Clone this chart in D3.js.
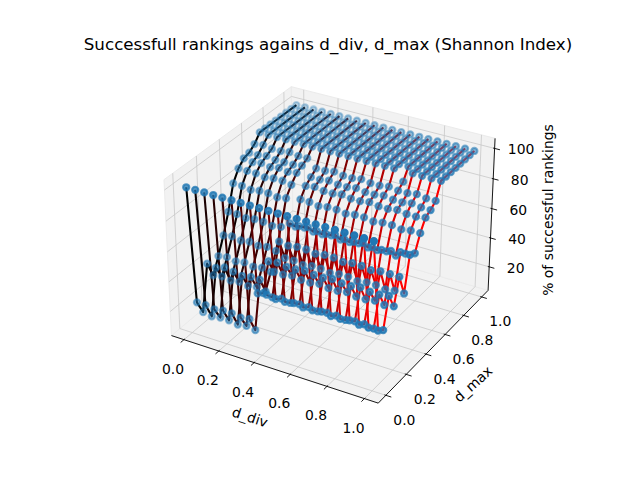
<!DOCTYPE html>
<html>
<head>
<meta charset="utf-8">
<script src="https://cdn.jsdelivr.net/npm/d3@7"></script>
<style>
  body { margin: 0; background: #fff; }
  text { font-family: "DejaVu Sans", sans-serif; fill: #000; }
</style>
</head>
<body>
<svg id="chart" width="640" height="480"></svg>
<script>
// d_div values (one line per value) and d_max values (points along each line)
const dDiv = [0, 0.05, 0.1, 0.15, 0.2, 0.25, 0.3, 0.35, 0.4, 0.45, 0.5,
  0.55, 0.6, 0.65, 0.7, 0.75, 0.8, 0.85, 0.9, 0.95, 1]
const dMax = [0, 0.05, 0.1, 0.15, 0.2, 0.25, 0.3, 0.35, 0.4, 0.45, 0.5,
  0.55, 0.6, 0.65, 0.7, 0.75, 0.8, 0.85, 0.9, 0.95, 1]

// % of successful rankings, one row per d_div, indexed by d_max
const success = [
  [100, 21, 11, 41, 30, 40, 51, 64, 80, 87, 91, 92, 95, 100, 100, 100, 100, 100, 100, 100, 100],
  [100, 21, 10, 40, 31, 41, 52, 64, 80, 87, 90, 92, 96, 100, 100, 100, 100, 100, 100, 100, 100],
  [100, 20, 11, 42, 30, 40, 51, 63, 79, 87, 91, 93, 95, 100, 100, 100, 100, 100, 100, 100, 100],
  [100, 21, 11, 41, 31, 41, 52, 64, 80, 86, 90, 92, 95, 100, 100, 100, 100, 100, 100, 100, 100],
  [100, 21, 10, 40, 30, 40, 51, 64, 80, 87, 91, 92, 96, 100, 100, 100, 100, 100, 100, 100, 100],
  [100, 20, 11, 41, 31, 41, 52, 63, 79, 87, 90, 92, 95, 100, 100, 100, 100, 100, 100, 100, 100],
  [100, 21, 10, 41, 30, 40, 51, 64, 80, 86, 91, 93, 95, 100, 100, 100, 100, 100, 100, 100, 100],
  [100, 40, 37, 55, 45, 62, 48, 68, 63, 78, 84, 87, 90, 100, 100, 100, 100, 100, 100, 100, 100],
  [100, 41, 36, 56, 45, 61, 48, 68, 64, 78, 85, 87, 90, 100, 100, 100, 100, 100, 100, 100, 100],
  [100, 40, 37, 55, 46, 62, 47, 69, 63, 77, 84, 88, 91, 100, 100, 100, 100, 100, 100, 100, 100],
  [100, 40, 36, 55, 45, 62, 48, 68, 63, 78, 84, 87, 90, 100, 100, 100, 100, 100, 100, 100, 100],
  [100, 41, 37, 56, 45, 61, 48, 68, 64, 78, 85, 87, 90, 100, 100, 100, 100, 100, 100, 100, 100],
  [100, 40, 37, 55, 46, 62, 47, 69, 63, 77, 84, 88, 91, 100, 100, 100, 100, 100, 100, 100, 100],
  [100, 40, 36, 55, 45, 62, 48, 68, 63, 78, 84, 87, 90, 100, 100, 100, 100, 100, 100, 100, 100],
  [100, 41, 37, 56, 45, 61, 48, 68, 64, 78, 85, 87, 90, 100, 100, 100, 100, 100, 100, 100, 100],
  [100, 40, 37, 55, 46, 62, 47, 69, 63, 77, 84, 88, 91, 100, 100, 100, 100, 100, 100, 100, 100],
  [100, 40, 36, 55, 45, 62, 48, 68, 63, 78, 84, 87, 90, 93, 100, 100, 100, 100, 100, 100, 100],
  [100, 41, 37, 56, 45, 61, 48, 68, 64, 78, 85, 87, 90, 100, 100, 100, 100, 100, 100, 100, 100],
  [100, 40, 37, 55, 46, 62, 47, 69, 63, 77, 84, 88, 91, 100, 100, 100, 100, 100, 100, 100, 100],
  [100, 40, 36, 55, 45, 62, 48, 70, 66, 78, 84, 87, 90, 100, 100, 100, 100, 100, 100, 100, 100],
  [100, 40, 37, 56, 46, 62, 48, 70, 68, 78, 85, 87, 90, 100, 100, 100, 100, 100, 100, 100, 100]
]

const xTicks = [0, 0.2, 0.4, 0.6, 0.8, 1]
const yTicks = [0, 0.2, 0.4, 0.6, 0.8, 1]
const zTicks = [20, 40, 60, 80, 100]

const svg = d3.select('#chart')

// view like matplotlib's default 3d axes: elev 30, azim -60, dist 10
const elev = 30 * Math.PI / 180
const azim = -60 * Math.PI / 180
const dist = 10
const box = [1.19048, 1.19048, 0.89286]

// limits with 5% margin, panes padded by 1/48 of the limit range
function paneExtent (values) {
  const [lo, hi] = d3.extent(values)
  const m = (hi - lo) * 0.05
  const pad = (hi - lo + 2 * m) / 48
  return [lo - m - pad, hi + m + pad]
}

const xDom = paneExtent(dDiv)
const yDom = paneExtent(dMax)
const zDom = paneExtent(success.flat())

const xs = d3.scaleLinear().domain(xDom).range([-box[0] / 2, box[0] / 2])
const ys = d3.scaleLinear().domain(yDom).range([-box[1] / 2, box[1] / 2])
const zs = d3.scaleLinear().domain(zDom).range([-box[2] / 2, box[2] / 2])

// projected plane -> pixels
const px = d3.scaleLinear().domain([-0.095, 0.09]).range([143.65, 511.8])
const py = d3.scaleLinear().domain([-0.095, 0.09]).range([426.35, 58.2])

const w = [Math.cos(elev) * Math.cos(azim), Math.cos(elev) * Math.sin(azim), Math.sin(elev)]
const u = [-Math.sin(azim), Math.cos(azim), 0]
const v = [-Math.sin(elev) * Math.cos(azim), -Math.sin(elev) * Math.sin(azim), Math.cos(elev)]

function project (x, y, z) {
  const p = [xs(x), ys(y), zs(z)]
  const dot = q => q[0] * p[0] + q[1] * p[1] + q[2] * p[2]
  const den = dist - dot(w)
  return { x: px(dot(u) / den), y: py(dot(v) / den), depth: den }
}

const line = d3.line().x(d => d.x).y(d => d.y)

function seg (g, a, b, color, width) {
  const p = project(...a)
  const q = project(...b)
  g.append('line')
    .attr('x1', p.x).attr('y1', p.y)
    .attr('x2', q.x).attr('y2', q.y)
    .attr('stroke', color)
    .attr('stroke-width', width)
}

// panes
const [x0, x1] = xDom
const [y0, y1] = yDom
const [z0, z1] = zDom
const panes = [
  [[x0, y0, z0], [x1, y0, z0], [x1, y1, z0], [x0, y1, z0]],
  [[x0, y0, z0], [x0, y1, z0], [x0, y1, z1], [x0, y0, z1]],
  [[x0, y1, z0], [x1, y1, z0], [x1, y1, z1], [x0, y1, z1]]
]
svg.append('g').attr('class', 'panes')
  .selectAll('path')
  .data(panes)
  .join('path')
  .attr('d', d => line(d.map(c => project(...c))) + 'Z')
  .attr('fill', '#f2f2f2')
  .attr('stroke', '#ebebeb')
  .attr('stroke-width', 1)

// grid
const grid = svg.append('g').attr('class', 'grid')
xTicks.forEach(t => {
  seg(grid, [t, y0, z0], [t, y1, z0], '#c8c8c8', 0.8)
  seg(grid, [t, y1, z0], [t, y1, z1], '#c8c8c8', 0.8)
})
yTicks.forEach(t => {
  seg(grid, [x0, t, z0], [x1, t, z0], '#c8c8c8', 0.8)
  seg(grid, [x0, t, z0], [x0, t, z1], '#c8c8c8', 0.8)
})
zTicks.forEach(t => {
  seg(grid, [x0, y0, t], [x0, y1, t], '#c8c8c8', 0.8)
  seg(grid, [x0, y1, t], [x1, y1, t], '#c8c8c8', 0.8)
})

// axes lines, ticks and labels
const axes = svg.append('g').attr('class', 'axes')
seg(axes, [x0, y0, z0], [x1, y0, z0], '#000', 0.9)
seg(axes, [x1, y0, z0], [x1, y1, z0], '#000', 0.9)
seg(axes, [x1, y1, z0], [x1, y1, z1], '#000', 0.9)

const dx = (x1 - x0) / 12
const dy = (y1 - y0) / 12
const fmt = d3.format('.1f')

xTicks.forEach(t => {
  seg(axes, [t, y0 + 0.08 * dy, z0], [t, y0 - 0.3 * dy, z0], '#000', 0.9)
  const p = project(t, y0, z0)
  axes.append('text')
    .attr('x', p.x - 11).attr('y', p.y + 29)
    .attr('text-anchor', 'middle').attr('dominant-baseline', 'central')
    .attr('font-size', 13.9)
    .text(fmt(t))
})
yTicks.forEach(t => {
  seg(axes, [x1 - 0.08 * dx, t, z0], [x1 + 0.3 * dx, t, z0], '#000', 0.9)
  const p = project(x1, t, z0)
  axes.append('text')
    .attr('x', p.x + 18.5).attr('y', p.y + 24.5)
    .attr('text-anchor', 'middle').attr('dominant-baseline', 'central')
    .attr('font-size', 13.9)
    .text(fmt(t))
})
zTicks.forEach(t => {
  seg(axes, [x1 - 0.08 * dx, y1, t], [x1 + 0.3 * dx, y1, t], '#000', 0.9)
  const p = project(x1, y1, t)
  axes.append('text')
    .attr('x', p.x + 26.5).attr('y', p.y + 1)
    .attr('text-anchor', 'middle').attr('dominant-baseline', 'central')
    .attr('font-size', 13.9)
    .text(t)
})

axes.append('text')
  .attr('transform', 'translate(250,417) rotate(18)')
  .attr('text-anchor', 'middle').attr('dominant-baseline', 'central')
  .attr('font-size', 13.9)
  .text('d_div')
axes.append('text')
  .attr('transform', 'translate(473,384) rotate(-42)')
  .attr('text-anchor', 'middle').attr('dominant-baseline', 'central')
  .attr('font-size', 13.9)
  .text('d_max')
axes.append('text')
  .attr('transform', 'translate(548,210) rotate(-90)')
  .attr('text-anchor', 'middle').attr('dominant-baseline', 'central')
  .attr('font-size', 13.9)
  .text('% of successful rankings')

// one line per d_div, black to red
const lines = svg.append('g').attr('class', 'lines')
dDiv.forEach((dv, i) => {
  const pts = dMax.map((dm, j) => project(dv, dm, success[i][j]))
  lines.append('path')
    .attr('d', line(pts))
    .attr('fill', 'none')
    .attr('stroke', d3.rgb(255 * i / (dDiv.length - 1), 0, 0))
    .attr('stroke-width', 2.08)
    .attr('stroke-linejoin', 'round')
})

// scatter, depth shaded, drawn far to near
const points = []
dDiv.forEach((dv, i) => {
  dMax.forEach((dm, j) => points.push(project(dv, dm, success[i][j])))
})
const depthExt = d3.extent(points, d => d.depth)
const shade = d3.scaleLinear().domain(depthExt).range([1, 0.3])
points.sort((a, b) => b.depth - a.depth)
svg.append('g').attr('class', 'points')
  .selectAll('circle')
  .data(points)
  .join('circle')
  .attr('cx', d => d.x)
  .attr('cy', d => d.y)
  .attr('r', 3.1)
  .attr('fill', '#1f77b4')
  .attr('fill-opacity', d => shade(d.depth))
  .attr('stroke', '#1f77b4')
  .attr('stroke-opacity', d => shade(d.depth))
  .attr('stroke-width', 2.08)

svg.append('text')
  .attr('x', 328).attr('y', 49.5)
  .attr('text-anchor', 'middle')
  .attr('font-size', 16.7)
  .text('Successfull rankings agains d_div, d_max (Shannon Index)')
</script>
</body>
</html>
